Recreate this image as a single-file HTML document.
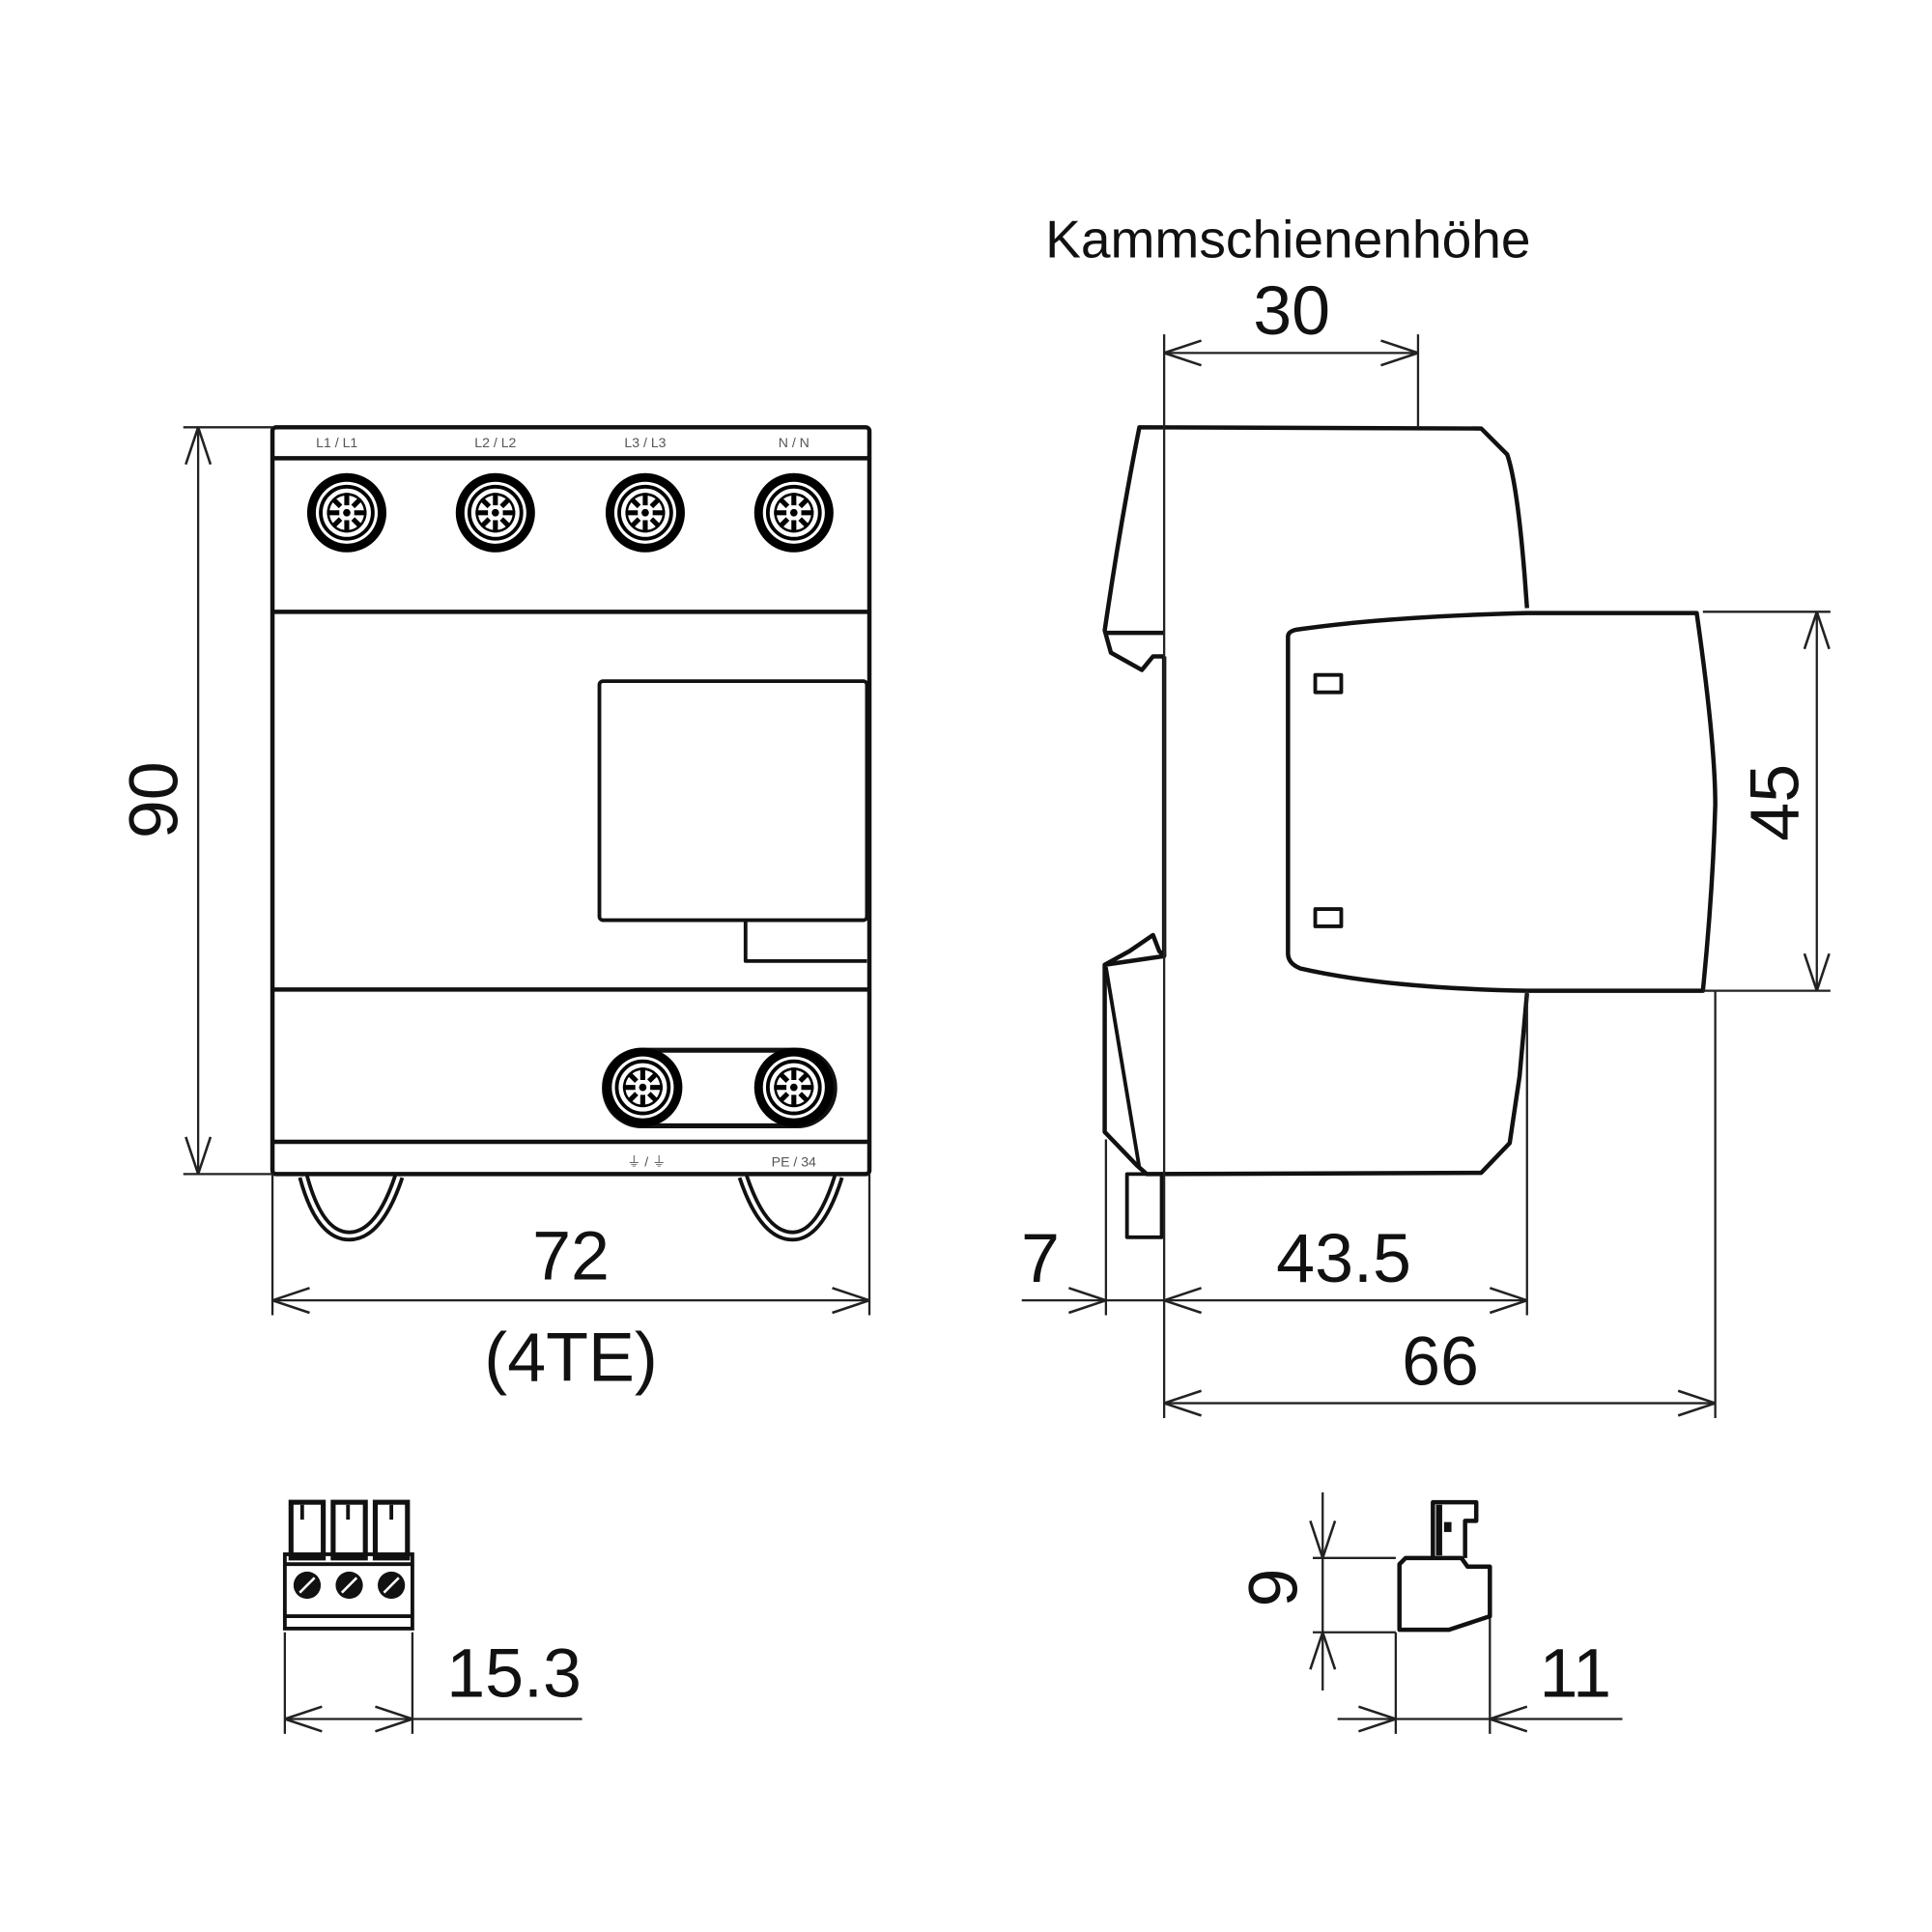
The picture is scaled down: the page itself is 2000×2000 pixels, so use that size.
<!DOCTYPE html>
<html><head><meta charset="utf-8"><style>html,body{margin:0;padding:0;background:#fff}svg{display:block}</style></head>
<body>
<svg width="2000" height="2000" viewBox="0 0 1560 1560" xmlns="http://www.w3.org/2000/svg">
<defs>
<g id="t">
<circle r="32" fill="#000"/>
<circle r="25" fill="#fff"/>
<circle r="21" fill="none" stroke="#000" stroke-width="3"/>
<circle r="15" fill="none" stroke="#000" stroke-width="2"/>
<path d="M0,-16V-6M0,6V16M-16,0H-6M6,0H16M-11,-11L-5,-5M11,-11L5,-5M-11,11L-5,5M11,11L5,5" stroke="#000" stroke-width="4"/>
<circle r="3" fill="#000"/>
</g>
<g id="ah"><path d="M0,0 L30,-10 M0,0 L30,10" stroke="#222" stroke-width="2" fill="none"/></g>
</defs>
<g fill="none" stroke="#111" stroke-linejoin="round">
<rect x="220" y="345" width="482" height="603" stroke-width="3.5" rx="3"/>
<line x1="220" y1="370" x2="702" y2="370" stroke-width="3.5"/>
<line x1="220" y1="494" x2="702" y2="494" stroke-width="3.5"/>
<line x1="220" y1="799" x2="702" y2="799" stroke-width="3.5"/>
<line x1="220" y1="922" x2="702" y2="922" stroke-width="3.5"/>
<rect x="484" y="550" width="216" height="193" stroke-width="3" rx="3"/>
<path d="M602,743 V776 H700" stroke-width="3"/>
<rect x="488" y="848" width="186" height="61" rx="30" stroke-width="4"/>
<path d="M245,950 Q258,998 282,998 Q306,998 322,950" stroke-width="9"/>
<path d="M245,950 Q258,998 282,998 Q306,998 322,950" stroke="#fff" stroke-width="3"/>
<path d="M600,950 Q616,998 640,998 Q662,998 677,950" stroke-width="9"/>
<path d="M600,950 Q616,998 640,998 Q662,998 677,950" stroke="#fff" stroke-width="3"/>
</g>
<use href="#t" x="280" y="414"/><use href="#t" x="400" y="414"/><use href="#t" x="521" y="414"/><use href="#t" x="641" y="414"/>
<use href="#t" x="519" y="878"/><use href="#t" x="641" y="878"/>
<g font-family="Liberation Sans, DejaVu Sans, sans-serif" font-size="11" fill="#555" text-anchor="middle">
<text x="272" y="361">L1 / L1</text><text x="400" y="361">L2 / L2</text><text x="521" y="361">L3 / L3</text><text x="641" y="361">N / N</text>
<text x="522" y="942">⏚ / ⏚</text><text x="641" y="942">PE / 34</text>
</g>

<g fill="none" stroke="#111" stroke-width="3.5" stroke-linejoin="round">
<path d="M1233,491 L1231,464 Q1225,390 1217,367 L1196,346 L920,345 Q905,420 892,509 L897,527 L922,541 L931,530 L940,530"/>
<line x1="892" y1="511" x2="940" y2="511"/>
<path d="M1040,514 Q1040,509 1050,508 Q1120,498 1233,495 L1370,495 Q1385,600 1385,650 Q1383,720 1375,800 L1233,800 Q1120,798 1050,782 Q1040,778 1040,770 Z"/>
<rect x="1062" y="545" width="21" height="14" stroke-width="3"/>
<rect x="1062" y="734" width="21" height="14" stroke-width="3"/>
<path d="M1233,802 L1227,869 L1219,923 L1196,947 L926,948 L918,941 L892,914 L892,779 L940,772 L936,768 L931,755 L912,768 L892,779"/>
<path d="M893,781 L920,943" stroke-width="3"/>
<rect x="910" y="948" width="28" height="51" stroke-width="3"/>
<line x1="940" y1="530" x2="940" y2="772"/>
</g>

<g stroke="#222" stroke-width="1.8" fill="none">
<line x1="148" y1="345" x2="220" y2="345"/><line x1="148" y1="948" x2="220" y2="948"/>
<line x1="160" y1="345" x2="160" y2="948"/>
<line x1="220" y1="948" x2="220" y2="1062"/><line x1="702" y1="948" x2="702" y2="1062"/>
<line x1="220" y1="1050" x2="702" y2="1050"/>
<line x1="940" y1="270" x2="940" y2="1145"/><line x1="1145" y1="270" x2="1145" y2="345"/>
<line x1="940" y1="285" x2="1145" y2="285"/>
<line x1="1375" y1="494" x2="1478" y2="494"/><line x1="1375" y1="800" x2="1478" y2="800"/>
<line x1="1467" y1="494" x2="1467" y2="800"/>
<line x1="893" y1="920" x2="893" y2="1062"/><line x1="1233" y1="800" x2="1233" y2="1062"/>
<line x1="825" y1="1050" x2="1233" y2="1050"/>
<line x1="1385" y1="800" x2="1385" y2="1145"/>
<line x1="940" y1="1133" x2="1385" y2="1133"/>
<line x1="230" y1="1318" x2="230" y2="1400"/><line x1="333" y1="1318" x2="333" y2="1400"/>
<line x1="230" y1="1388" x2="470" y2="1388"/>
<line x1="1068" y1="1205" x2="1068" y2="1365"/>
<line x1="1060" y1="1258" x2="1127" y2="1258"/><line x1="1060" y1="1318" x2="1127" y2="1318"/>
<line x1="1127" y1="1318" x2="1127" y2="1400"/><line x1="1203" y1="1300" x2="1203" y2="1400"/>
<line x1="1080" y1="1388" x2="1310" y2="1388"/>
</g>
<use href="#ah" transform="translate(160,345) rotate(90)"/>
<use href="#ah" transform="translate(160,948) rotate(-90)"/>
<use href="#ah" transform="translate(220,1050)"/>
<use href="#ah" transform="translate(702,1050) rotate(180)"/>
<use href="#ah" transform="translate(940,285)"/>
<use href="#ah" transform="translate(1145,285) rotate(180)"/>
<use href="#ah" transform="translate(1467,494) rotate(90)"/>
<use href="#ah" transform="translate(1467,800) rotate(-90)"/>
<use href="#ah" transform="translate(893,1050) rotate(180)"/>
<use href="#ah" transform="translate(940,1050)"/>
<use href="#ah" transform="translate(1233,1050) rotate(180)"/>
<use href="#ah" transform="translate(940,1133)"/>
<use href="#ah" transform="translate(1385,1133) rotate(180)"/>
<use href="#ah" transform="translate(230,1388)"/>
<use href="#ah" transform="translate(333,1388) rotate(180)"/>
<use href="#ah" transform="translate(1068,1258) rotate(-90)"/>
<use href="#ah" transform="translate(1068,1318) rotate(90)"/>
<use href="#ah" transform="translate(1127,1388) rotate(180)"/>
<use href="#ah" transform="translate(1203,1388)"/>

<g stroke="#111" fill="none" stroke-width="3">
<rect x="230" y="1255" width="103" height="60"/>
<line x1="230" y1="1305" x2="333" y2="1305"/>
<line x1="230" y1="1263" x2="333" y2="1263"/>
<rect x="235" y="1213" width="26" height="45" stroke-width="4"/>
<rect x="269" y="1213" width="26" height="45" stroke-width="4"/>
<rect x="303" y="1213" width="26" height="45" stroke-width="4"/>
<path d="M244,1215v12M281,1215v12M316,1215v12" stroke-width="3"/>
</g>
<g fill="#111"><circle cx="248" cy="1280" r="11"/><circle cx="282" cy="1280" r="11"/><circle cx="316" cy="1280" r="11"/></g>
<g stroke="#fff" stroke-width="2"><path d="M242,1286l12,-12M276,1286l12,-12M310,1286l12,-12"/></g>

<g stroke="#111" fill="none" stroke-width="3.5" stroke-linejoin="round">
<path d="M1135,1258 L1130,1263 L1130,1316 L1170,1316 L1203,1305 L1203,1265 L1185,1265 L1180,1258 Z"/>
<path d="M1157,1258 V1213 H1192 V1228 H1183 V1258"/>
<line x1="1162" y1="1215" x2="1162" y2="1256" stroke-width="5"/>
</g>
<rect x="1166" y="1229" width="6" height="8" fill="#111"/>

<g font-family="Liberation Sans, DejaVu Sans, sans-serif" fill="#111" text-anchor="middle">
<text x="1040" y="208" font-size="43">Kammschienenhöhe</text>
<text x="1043" y="270" font-size="56">30</text>
<text x="461" y="1033" font-size="56">72</text>
<text x="461" y="1115" font-size="56">(4TE)</text>
<text x="840" y="1035" font-size="56">7</text>
<text x="1085" y="1035" font-size="56">43.5</text>
<text x="1163" y="1118" font-size="56">66</text>
<text x="415" y="1370" font-size="56">15.3</text>
<text x="1272" y="1370" font-size="56">11</text>
<text transform="translate(143,646) rotate(-90)" font-size="56">90</text>
<text transform="translate(1452,648) rotate(-90)" font-size="56">45</text>
<text transform="translate(1047,1282) rotate(-90)" font-size="56">9</text>
</g>
</svg>
</body></html>
